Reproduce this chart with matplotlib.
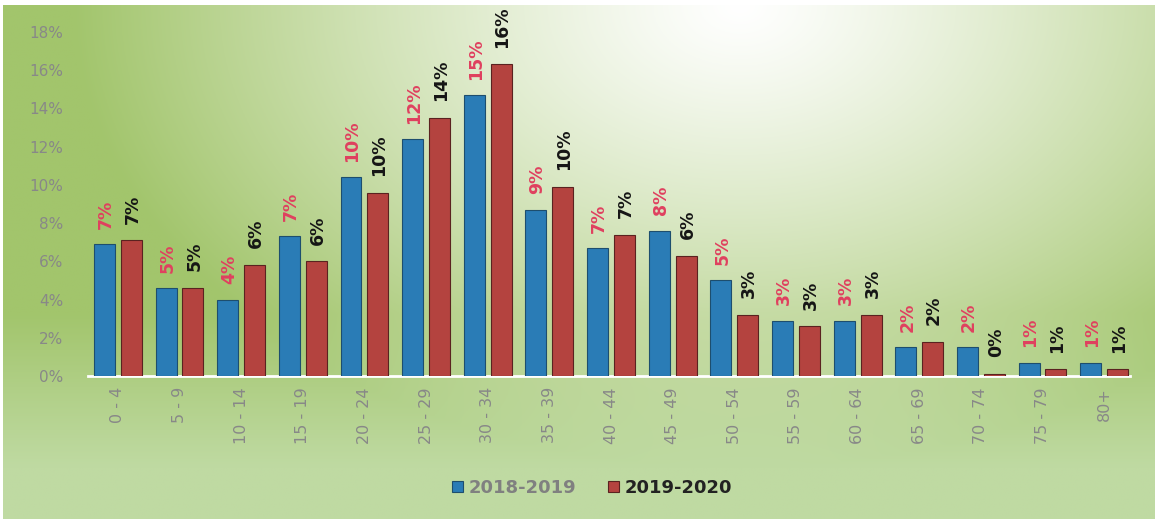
import matplotlib.pyplot as plt
import numpy as np
from matplotlib.colors import to_rgb

categories = ["0 - 4", "5 - 9", "10 - 14", "15 - 19", "20 - 24", "25 - 29", "30 - 34",
              "35 - 39", "40 - 44", "45 - 49", "50 - 54", "55 - 59", "60 - 64",
              "65 - 69", "70 - 74", "75 - 79", "80+"]
s2018 = [6.9, 4.6, 4.0, 7.3, 10.4, 12.4, 14.7, 8.7, 6.7, 7.6, 5.0, 2.9, 2.9, 1.5, 1.5, 0.7, 0.7]
s2019 = [7.1, 4.6, 5.8, 6.0, 9.6, 13.5, 16.3, 9.9, 7.4, 6.3, 3.2, 2.6, 3.2, 1.8, 0.1, 0.35, 0.35]
lab2018 = ["7%", "5%", "4%", "7%", "10%", "12%", "15%", "9%", "7%", "8%", "5%",
           "3%", "3%", "2%", "2%", "1%", "1%"]
lab2019 = ["7%", "5%", "6%", "6%", "10%", "14%", "16%", "10%", "7%", "6%", "3%",
           "3%", "3%", "2%", "0%", "1%", "1%"]
series_names = ["2018-2019", "2019-2020"]

W, H = 1155, 519
fig = plt.figure(figsize=(W / 100, H / 100), dpi=100)
fig.patch.set_facecolor("white")

# radial green/white background, lighter towards the top centre
bg = fig.add_axes([0.003, 0.0, 0.997, 0.99])
bg.set_axis_off()
yy, xx = np.mgrid[0:1:300j, 0:1:600j]
d = np.sqrt(((xx - 0.64) / 0.58) ** 2 + ((yy - 0.0) / 0.9) ** 2)
t = np.clip(d, 0, 1) ** 1.2
white = np.array([1.0, 1.0, 1.0])
side = np.array(to_rgb("#a2c56c"))
bottom = np.array(to_rgb("#bfdaa2"))
wy = np.clip((yy - 0.6) / 0.3, 0, 1)[..., None]
edge = side * (1 - wy) + bottom * wy
img = white * (1 - t[..., None]) + edge * t[..., None]
bg.imshow(img, aspect="auto", extent=[0, 1, 1, 0])
bg.set_xlim(0, 1)
bg.set_ylim(1, 0)

ax = fig.add_axes([88 / W, 1 - 376 / H, (1130 - 88) / W, (376 - 32) / H])
ax.patch.set_alpha(0)

x = np.arange(len(categories))
off = 0.218
bw = 0.34
blue = "#2a7cb6"
red = "#b4433f"
b1 = ax.bar(x - off, s2018, bw, color=blue, edgecolor="#1d4e6e", linewidth=0.8, zorder=3)
b2 = ax.bar(x + off, s2019, bw, color=red, edgecolor="#5a2220", linewidth=0.8, zorder=3)

for xi, v, lab in zip(x, s2018, lab2018):
    ax.annotate(lab, (xi - off, v), xytext=(1, 11), textcoords="offset points",
                rotation=90, ha="center", va="bottom", color="#e0405f",
                fontsize=12.5, fontweight="bold")
for xi, v, lab in zip(x, s2019, lab2019):
    ax.annotate(lab, (xi + off, v), xytext=(1, 12), textcoords="offset points",
                rotation=90, ha="center", va="bottom", color="#151515",
                fontsize=12.5, fontweight="bold")

ax.set_xlim((82 - 98.5) / 62.0 - off, (1130 - 98.5) / 62.0 - off)
ax.set_ylim(0, 18)
ax.set_yticks(np.arange(0, 19, 2))
ax.set_yticklabels([f"{v}%" for v in range(0, 19, 2)])
ax.set_xticks(x)
ax.set_xticklabels(categories, rotation=90)
ax.tick_params(axis="both", length=0, colors="#888888", labelsize=11)
ax.tick_params(axis="y", pad=18)
ax.tick_params(axis="x", pad=8, labelsize=11.5)
for sp in ["top", "right", "left"]:
    ax.spines[sp].set_visible(False)
ax.spines["bottom"].set_color("white")
ax.spines["bottom"].set_linewidth(2)

leg = fig.legend([b1, b2], series_names, loc="center", bbox_to_anchor=(592 / W, 1 - 488 / H),
                 ncol=2, frameon=False, fontsize=13, handlelength=0.6, handleheight=0.6,
                 columnspacing=1.8, handletextpad=0.3)
leg.get_texts()[0].set_color("#808080")
leg.get_texts()[1].set_color("#222222")
leg.get_texts()[1].set_fontweight("bold")
leg.get_texts()[0].set_fontweight("bold")

fig.savefig("out.png", dpi=100)
